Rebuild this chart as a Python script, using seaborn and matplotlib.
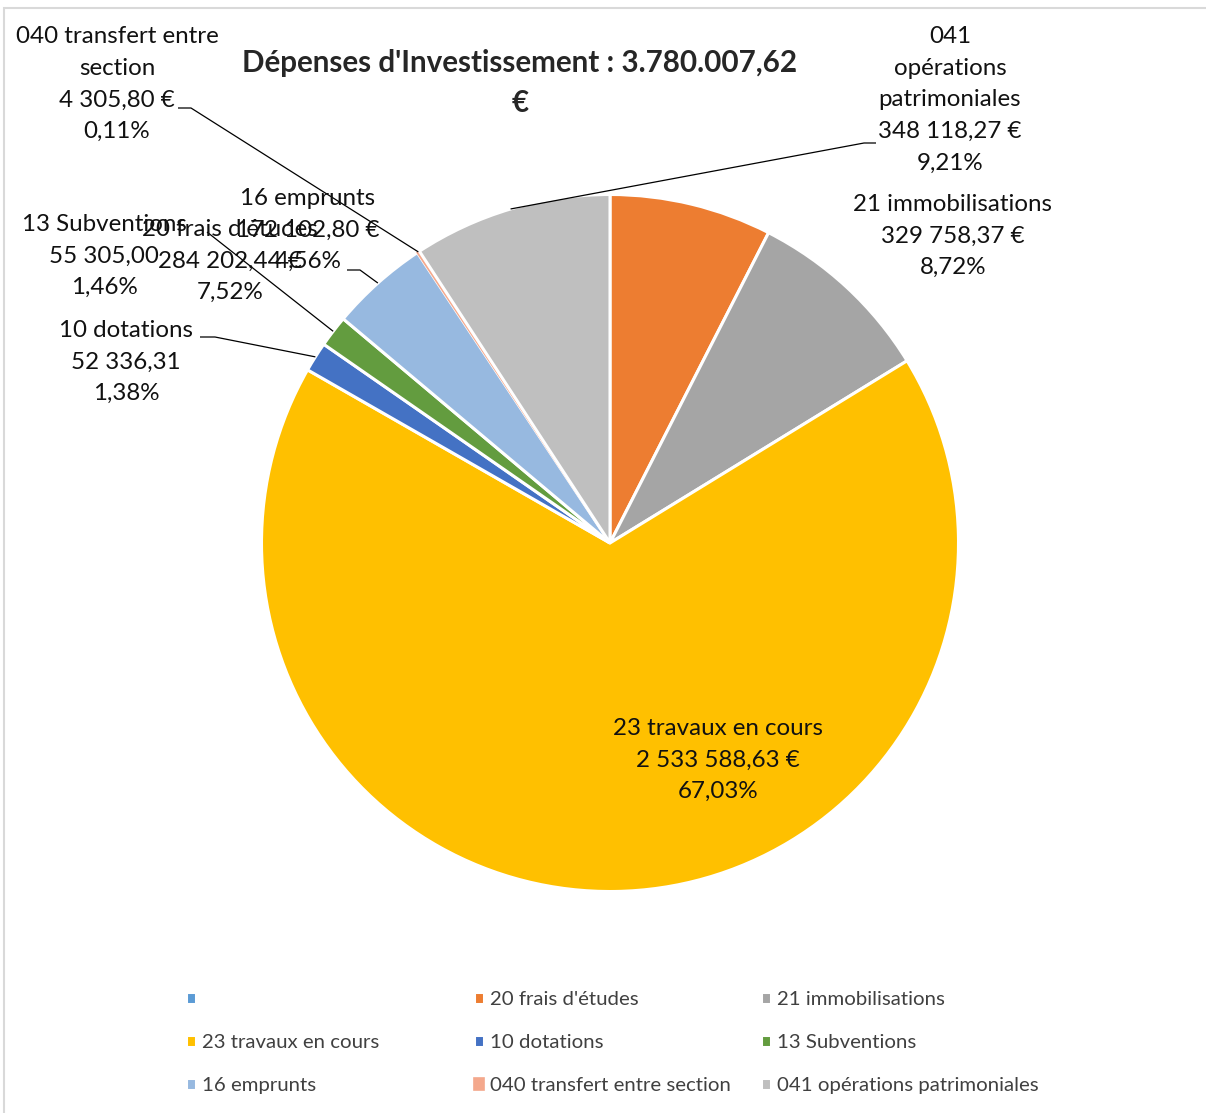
import matplotlib.pyplot as plt
import seaborn as sns
import numpy as np
from matplotlib.patches import Rectangle

# Données du graphique
categories = ["", "20 frais d'études", "21 immobilisations", "23 travaux en cours",
              "10 dotations", "13 Subventions", "16 emprunts",
              "040 transfert entre section", "041 opérations patrimoniales"]
montants = [0, 284202.44, 329758.37, 2533588.63, 52336.31, 55305.00,
            172102.80, 4305.80, 348118.27]
montants_txt = ["", "284 202,44 €", "329 758,37 €", "2 533 588,63 €", "52 336,31",
                "55 305,00", "172 102,80 €", "4 305,80 €", "348 118,27 €"]
pourcentages = ["", "7,52%", "8,72%", "67,03%", "1,38%", "1,46%", "4,56%", "0,11%", "9,21%"]
noms_etiquettes = ["", "20 frais d'études", "21 immobilisations", "23 travaux en cours",
                   "10 dotations", "13 Subventions", "16 emprunts",
                   "040 transfert entre\nsection", "041\nopérations\npatrimoniales"]
couleurs = ["#5B9BD5", "#ED7D31", "#A5A5A5", "#FFC000", "#4472C4", "#639C3F",
            "#97B9E0", "#F4A88C", "#BFBFBF"]
titre = "Dépenses d'Investissement : 3.780.007,62\n€"

sns.set_theme(style="white")
plt.rcParams['font.family'] = ['Lato', 'DejaVu Sans']

W, H = 1206, 1113
CX, CY, R = 610, 543, 348.5

fig = plt.figure(figsize=(W / 100, H / 100), dpi=100)
ax = fig.add_axes([0, 0, 1, 1])


def px(x, y):
    # position en pixels (depuis le coin haut gauche) -> coordonnées du camembert
    return (x - CX) / R, (CY - y) / R


wedges, _ = ax.pie(montants, colors=couleurs, startangle=90, counterclock=False,
                   radius=1, center=(0, 0),
                   wedgeprops=dict(edgecolor='white', linewidth=2.2))
# la part minuscule "040" reste visible comme un filet saumon
wedges[7].set_edgecolor(couleurs[7])
wedges[7].set_linewidth(1.2)
ax.set_xlim(px(0, 0)[0], px(W, 0)[0])
ax.set_ylim(px(0, H)[1], px(0, 0)[1])
ax.set_aspect('auto')
ax.axis('off')

# Cadre gris clair du graphique
fig.add_artist(Rectangle((4 / W, -0.1), 1.1, (H - 8) / H + 0.1, transform=fig.transFigure,
                         fill=False, edgecolor='#D9D9D9', linewidth=1.5))

# Titre
ax.text(*px(520, 83), titre, ha='center', va='center', fontsize=21.3,
        fontweight='bold', linespacing=1.5)

# Etiquettes de données (centre x, centre y en pixels)
pos_etiquettes = {1: (230, 261), 2: (953, 236), 3: (718, 760), 4: (126, 362),
                  5: (104, 256), 6: (308, 230), 7: (117, 84), 8: (950, 100)}
for i, (x, y) in pos_etiquettes.items():
    txt = noms_etiquettes[i] + "\n" + montants_txt[i] + "\n" + pourcentages[i]
    ax.text(*px(x, y), txt, ha='center', va='center', fontsize=17.4,
            linespacing=1.63, color='#111111')


def point_part(i):
    w = wedges[i]
    a = np.deg2rad((w.theta1 + w.theta2) / 2)
    return np.cos(a), np.sin(a)


# Lignes de rappel : (indice, points de départ en pixels)
rappels = {7: [(178, 108), (191, 108)], 6: [(347, 270), (360, 270)],
           5: [(207, 232)], 4: [(200, 337), (215, 337)], 8: [(876, 143), (864, 143)]}
for i, pts in rappels.items():
    xs = [px(*p)[0] for p in pts] + [point_part(i)[0]]
    ys = [px(*p)[1] for p in pts] + [point_part(i)[1]]
    ax.plot(xs, ys, color='black', linewidth=0.9, solid_capstyle='butt')

# Légende en trois colonnes, remplie ligne par ligne
for col, x0 in enumerate([186, 474, 761]):
    idx = [col, col + 3, col + 6]
    leg = fig.legend([wedges[k] for k in idx], [categories[k] for k in idx],
                     loc='center left', bbox_to_anchor=(x0 / W, 1 - 1042.5 / H),
                     frameon=False, fontsize=14.7, handlelength=0.5, handleheight=0.5,
                     handletextpad=0.3, labelspacing=1.27, borderpad=0, borderaxespad=0)
    for t in leg.get_texts():
        t.set_color('#404040')

fig.savefig('out.png', dpi=100)
